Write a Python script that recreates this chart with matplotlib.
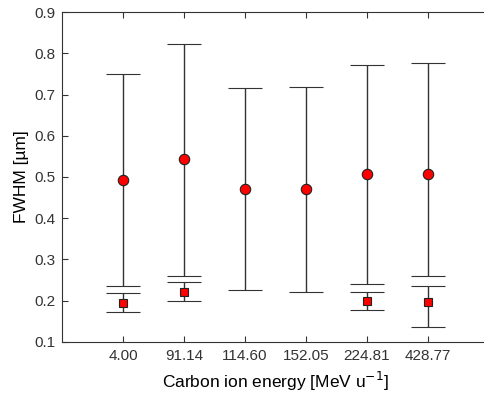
import numpy as np
import matplotlib
matplotlib.use("Agg")
import matplotlib.pyplot as plt

plt.rcParams['font.family'] = ['Liberation Sans', 'DejaVu Sans']

# energies (categorical positions)
energies = ["4.00", "91.14", "114.60", "152.05", "224.81", "428.77"]

# circles: value and error bar ends
circ_y = [0.493, 0.543, 0.472, 0.472, 0.507, 0.507]
circ_hi = [0.750, 0.824, 0.717, 0.719, 0.771, 0.778]
circ_lo = [0.235, 0.259, 0.226, 0.221, 0.240, 0.259]

# squares (none for 114.60 and 152.05)
sq_y = [0.195, 0.221, np.nan, np.nan, 0.200, 0.197]
sq_hi = [0.218, 0.245, np.nan, np.nan, 0.221, 0.235]
sq_lo = [0.171, 0.199, np.nan, np.nan, 0.176, 0.135]

x = np.arange(1, len(energies) + 1)
circ_y = np.array(circ_y)
sq_y = np.array(sq_y)

fig = plt.figure(figsize=(4.84, 3.96), dpi=100)
ax = fig.add_axes([62.4 / 484, 1 - 341.7 / 396, 426.3 / 484, 329.4 / 396])

ax.errorbar(x, circ_y, yerr=[circ_y - np.array(circ_lo), np.array(circ_hi) - circ_y],
            fmt='o', color='red', mec='#222222', mew=0.8, ms=7.5,
            ecolor='#333333', elinewidth=1, capsize=12.5, capthick=1)
ax.errorbar(x, sq_y, yerr=[sq_y - np.array(sq_lo), np.array(sq_hi) - sq_y],
            fmt='s', color='red', mec='#222222', mew=0.8, ms=6,
            ecolor='#333333', elinewidth=1, capsize=12.5, capthick=1)

ax.set_xlim(0, 7)
ax.set_ylim(0.1, 0.9)
ax.set_xticks(x)
ax.set_xticklabels(energies)
ax.set_yticks(np.arange(0.1, 0.91, 0.1))
ax.set_yticklabels(["%.1f" % v for v in np.arange(0.1, 0.91, 0.1)])
ax.tick_params(direction='in', top=True, length=4, labelsize=11, colors='#333333', labelcolor='#333333', pad=5)
ax.spines['right'].set_visible(False)
for s in ['left', 'bottom', 'top']:
    ax.spines[s].set_color('#333333')
    ax.spines[s].set_linewidth(0.8)

ax.set_xlabel("Carbon ion energy [MeV u$^{-1}$]", fontsize=12.5, labelpad=5)
ax.set_ylabel("FWHM [µm]", fontsize=12.5, labelpad=4)

fig.savefig("out.png", dpi=100)
